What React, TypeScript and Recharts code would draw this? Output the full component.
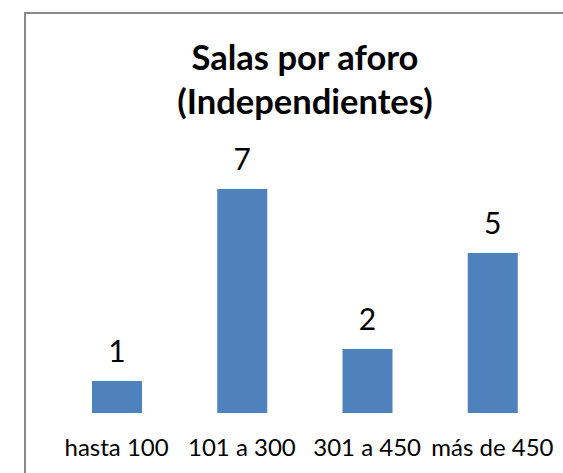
import { Bar, BarChart, LabelList, XAxis, YAxis } from "recharts";

const categories = ["hasta 100", "101 a 300", "301 a 450", "más de 450"];
const salas = [1, 7, 2, 5];
const titleLines = ["Salas por aforo", "(Independientes)"];

const data = categories.map((c, i) => ({ name: c, salas: salas[i] }));

const FONT = "Lato, 'Open Sans', sans-serif";

export default function App() {
  return (
    <div
      style={{
        position: "absolute",
        left: 0,
        top: 0,
        width: 563,
        height: 473,
        overflow: "hidden",
        background: "#fff",
        fontFamily: FONT,
      }}
    >
      <div
        style={{
          position: "absolute",
          left: 24,
          top: 12,
          width: 600,
          height: 500,
          border: "2px solid #898989",
        }}
      />
      <svg
        width={563}
        height={473}
        style={{ position: "absolute", left: 0, top: 0 }}
      >
        {titleLines.map((t, i) => (
          <text
            key={t}
            x={305}
            y={70 + i * 44}
            textAnchor="middle"
            fontFamily={FONT}
            fontWeight="bold"
            fontSize={34.5}
            fill="#000"
          >
            {t}
          </text>
        ))}
      </svg>
      <div style={{ position: "absolute", left: 0, top: 0 }}>
        <BarChart
          width={600}
          height={473}
          data={data}
          margin={{ top: 157, right: 45, bottom: 20, left: 54 }}
          barSize={50}
        >
          <XAxis
            dataKey="name"
            height={40}
            axisLine={false}
            tickLine={false}
            tickSize={0}
            tickMargin={26}
            interval={0}
            tick={{ fontSize: 24, fill: "#000", fontFamily: FONT }}
          />
          <YAxis hide domain={[0, 8]} />
          <Bar dataKey="salas" fill="#4f81bd" isAnimationActive={false}>
            <LabelList
              dataKey="salas"
              position="top"
              offset={19}
              fill="#000"
              fontSize={30}
              fontFamily={FONT}
            />
          </Bar>
        </BarChart>
      </div>
    </div>
  );
}
